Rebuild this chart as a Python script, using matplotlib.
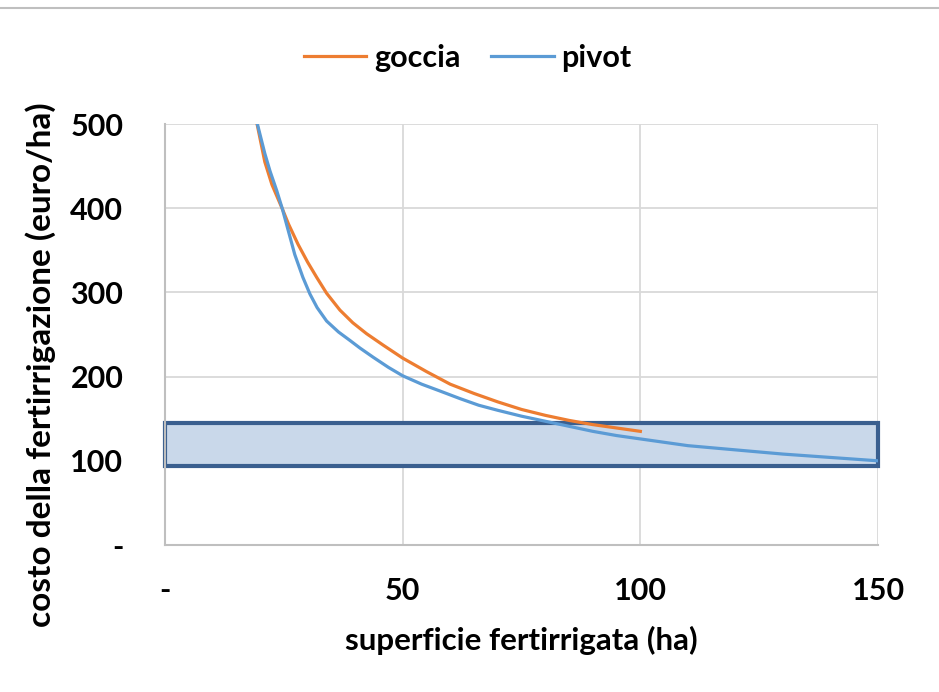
import matplotlib.pyplot as plt
from matplotlib.lines import Line2D
from matplotlib.patches import Rectangle

# dati
superficie_goccia = [19.3, 21.0, 22.5, 24.7, 26.0, 28.0, 30.0, 31.9, 34.0, 36.8, 39.5, 42.4,
                     46.0, 50.0, 55.0, 60.0, 65.0, 70.0, 75.0, 80.0, 85.0, 90.0, 95.0, 100.0]
costo_goccia = [502, 455, 428, 399, 381, 357, 336, 318, 299, 279, 264, 251,
                237, 222, 206, 191, 180, 170, 161, 154, 148, 143, 139, 135]

superficie_pivot = [19.3, 21.0, 22.1, 23.5, 24.7, 26.0, 27.3, 29.0, 30.5, 32.0, 34.0, 36.5,
                    38.9, 41.0, 43.8, 47.0, 50.0, 54.0, 57.8, 62.0, 66.0, 70.0, 75.0,
                    80.0, 85.0, 90.0, 95.0, 100.0, 110.0, 122.0, 130.0, 140.0, 150.0]
costo_pivot = [503, 465, 444, 421, 399, 372, 345, 318, 298, 282, 266, 253,
               243, 234, 223, 211, 201, 191, 183, 174, 166, 160, 153,
               147, 141, 135, 130, 126, 118, 112, 108, 104, 100]

# fascia evidenziata
fascia_x = [0, 150]
fascia_y = [94, 145]

x_ticks = [0, 50, 100, 150]
x_labels = ['-', '50', '100', '150']
y_ticks = [0, 100, 200, 300, 400, 500]
y_labels = ['-', '100', '200', '300', '400', '500']

plt.rcParams['font.family'] = ['Lato', 'DejaVu Sans']
plt.rcParams['font.weight'] = 'bold'

fig = plt.figure(figsize=(9.39, 6.92), dpi=100)
ax = fig.add_axes([0.1757, 0.2124, 0.7594, 0.6084])

ax.add_patch(Rectangle((fascia_x[0], fascia_y[0]), fascia_x[1] - fascia_x[0],
                       fascia_y[1] - fascia_y[0], facecolor='#C9D8EA',
                       edgecolor='#3A5F8F', linewidth=3, zorder=1, clip_on=False))
ax.plot(superficie_goccia, costo_goccia, color='#ED7D31', lw=2.3, label='goccia',
        zorder=3, solid_joinstyle='round')
ax.plot(superficie_pivot, costo_pivot, color='#5B9BD5', lw=2.3, label='pivot',
        zorder=3, solid_joinstyle='round')

ax.set_xlim(0, 150)
ax.set_ylim(0, 500)
ax.set_xticks(x_ticks)
ax.set_xticklabels(x_labels)
ax.set_yticks(y_ticks)
ax.set_yticklabels(y_labels)
ax.tick_params(length=0, labelsize=22)
ax.tick_params(axis='x', pad=23)
ax.tick_params(axis='y', pad=30)
for lab in ax.get_xticklabels() + ax.get_yticklabels():
    lab.set_fontweight('bold')

ax.grid(True, color='#D9D9D9', lw=1.3, zorder=0)
ax.set_axisbelow(True)
for s in ['top', 'right']:
    ax.spines[s].set_visible(False)
for s in ['left', 'bottom']:
    ax.spines[s].set_color('#BFBFBF')
    ax.spines[s].set_linewidth(1.5)

fig.text(0.555, 0.074, 'superficie fertirrigata (ha)', fontsize=22.5, fontweight='bold',
         ha='center', va='center')
fig.text(0.043, 0.473, 'costo della fertirrigazione (euro/ha)', rotation=90,
         fontsize=24, fontweight='bold', ha='center', va='center')

ax.legend(loc='center', bbox_to_anchor=(0.498, 0.916), bbox_transform=fig.transFigure,
          ncol=2, frameon=False, fontsize=22, handlelength=2.06, handletextpad=0.25,
          columnspacing=1.0)

fig.add_artist(Line2D([0, 1], [0.988, 0.988], color='#BFBFBF', lw=1.5))

fig.savefig('out.png', dpi=100)
